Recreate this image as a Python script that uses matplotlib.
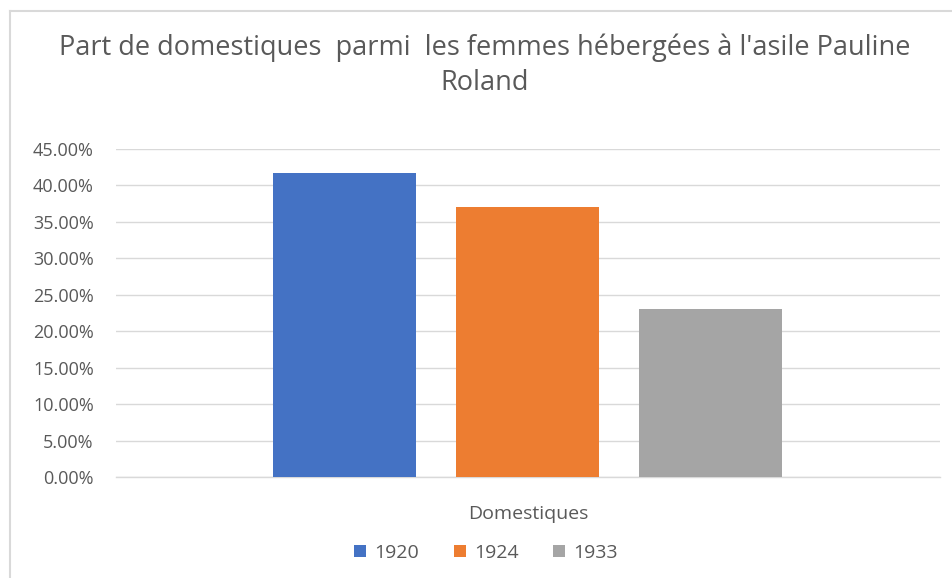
import matplotlib.pyplot as plt
from matplotlib.lines import Line2D
from matplotlib.ticker import FuncFormatter

categories = ['Domestiques']
years = ['1920', '1924', '1933']
values = [41.7, 37.0, 23.1]
colors = ['#4472c4', '#ed7d31', '#a5a5a5']

plt.rcParams['font.family'] = ['Open Sans', 'DejaVu Sans']

fig = plt.figure(figsize=(9.53, 5.78), dpi=100)
ax = fig.add_axes([116 / 953, 1 - 477 / 578, 824 / 953, 328 / 578])

width = 143 / 824
step = 183 / 824
for i, (y, v) in enumerate(zip(years, values)):
    ax.bar((i - 1) * step, v, width=width, color=colors[i], label=y, zorder=3)

ax.set_xlim(-0.5, 0.5)
ax.set_ylim(0, 45)
ax.set_yticks(range(0, 46, 5))
ax.yaxis.set_major_formatter(FuncFormatter(lambda v, p: '%.2f%%' % v))
ax.set_xticks([])
ax.grid(axis='y', color='#d9d9d9', linewidth=1, zorder=0)
ax.axhline(0, color='#d9d9d9', linewidth=1, zorder=1, clip_on=False)
for s in ax.spines.values():
    s.set_visible(False)
ax.tick_params(axis='y', length=0, pad=16, labelsize=13, labelcolor='#595959')

fig.text(528 / 953, 1 - 514 / 578, categories[0], ha='center', va='center',
         fontsize=14, color='#595959')

fig.text(485 / 953, 1 - 48 / 578, "Part de domestiques  parmi  les femmes hébergées à l'asile Pauline",
         ha='center', va='center', fontsize=19.5, color='#595959')
fig.text(485 / 953, 1 - 83 / 578, "Roland", ha='center', va='center',
         fontsize=19.5, color='#595959')

leg = fig.legend(loc='center', bbox_to_anchor=(486 / 953, 1 - 553 / 578), ncol=3,
                 frameon=False, fontsize=14, handlelength=0.62, handleheight=0.62,
                 handletextpad=0.4, columnspacing=1.8)
for t in leg.get_texts():
    t.set_color('#595959')

# chart frame (partially cropped)
fig.add_artist(Line2D([10 / 953, 1], [1 - 11 / 578] * 2, color='#d9d9d9', linewidth=1.5))
fig.add_artist(Line2D([10 / 953] * 2, [0, 1 - 11 / 578], color='#d9d9d9', linewidth=1.5))

fig.savefig('out.png', dpi=100, facecolor='white')
